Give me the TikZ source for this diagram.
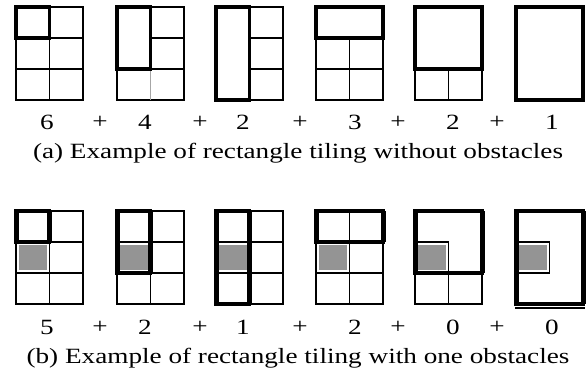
\documentclass[tikz,border=0pt]{standalone}
\usepackage{fontspec}
\setmainfont{Liberation Serif}[FakeStretch=1.25]
\usepackage{tikz}

% thin 2x3 cell grid of one board
\newcommand{\fullgrid}{%
  \draw[gridline] (0,0) rectangle (67,93)
    (33.5,0) -- (33.5,93) (0,31) -- (67,31) (0,62) -- (67,62);}

\begin{document}
\begin{tikzpicture}[
    x=0.4pt, y=-0.4pt,
    gridline/.style={line width=0.6pt},
    faint/.style={gridline, draw=black!35},
    tile/.style={line width=1.3pt},
    tileside/.style={line width=2pt},
    obst/.style={fill=black!42},
    obstedge/.style={line width=0.6pt},
    lbl/.style={font=\fontsize{8.7}{10}\selectfont, inner sep=0pt},
  ]
    \useasboundingbox (0,0) rectangle (586,373);

    % ---- (a) boards without obstacles ----
    \begin{scope}[shift={(16,7)}]
      \fullgrid
      \draw[tile] (0,0) rectangle (33.5,31);
    \end{scope}
    \begin{scope}[shift={(117,7)}]
      \draw[gridline] (0,0) rectangle (67,93) (33.5,31) -- (67,31) (0,62) -- (67,62);
      \draw[faint] (33.5,62) -- (33.5,93);
      \draw[tile] (0,0) rectangle (33.5,62);
    \end{scope}
    \begin{scope}[shift={(216,7)}]
      \draw[gridline] (0,0) rectangle (67,93) (33.5,31) -- (67,31) (33.5,62) -- (67,62);
      \draw[tile] (0,0) rectangle (33.5,93);
    \end{scope}
    \begin{scope}[shift={(316,7)}]
      \draw[gridline] (0,0) rectangle (67,93) (0,62) -- (67,62) (33.5,31) -- (33.5,93);
      \draw[tile] (0,0) rectangle (67,31);
    \end{scope}
    \begin{scope}[shift={(415,7)}]
      \draw[gridline] (0,0) rectangle (67,93) (33.5,62) -- (33.5,93);
      \draw[tile] (0,0) rectangle (67,62);
    \end{scope}
    \begin{scope}[shift={(516,7)}]
      \draw[tile] (0,0) rectangle (67,93);
    \end{scope}

    \foreach \x/\t [count=\i] in {47/6,100/+,145/4,200/+,243/2,300/+,355/3,398/+,453/2,497/+,552/1}
      \node[lbl] (a\i) at (\x,122) {\t};
    \node[lbl] (capa) at (298,153) {(a) Example of rectangle tiling without obstacles};

    % ---- (b) boards with one obstacle ----
    \begin{scope}[shift={(16,211)}]
      \fullgrid
      \fill[obst] (3,34) rectangle (30.5,59);
      \draw[tile] (0,0) rectangle (33.5,31);
      \draw[tileside] (0,0) -- (0,31) (33.5,0) -- (33.5,31);
    \end{scope}
    \begin{scope}[shift={(117,211)}]
      \fullgrid
      \fill[obst] (3,34) rectangle (30.5,59);
      \draw[tile] (0,0) rectangle (33.5,62);
      \draw[tileside] (0,0) -- (0,62) (33.5,0) -- (33.5,62);
    \end{scope}
    \begin{scope}[shift={(216,211)}]
      \fullgrid
      \fill[obst] (3,34) rectangle (30.5,59);
      \draw[tile] (0,0) rectangle (33.5,93);
      \draw[tileside] (0,0) -- (0,93) (33.5,0) -- (33.5,93);
    \end{scope}
    \begin{scope}[shift={(316,211)}]
      \fullgrid
      \fill[obst] (3,34) rectangle (30.5,59);
      \draw[tile] (0,0) rectangle (67,31);
      \draw[tileside] (0,0) -- (0,31) (67,0) -- (67,31);
    \end{scope}
    \begin{scope}[shift={(415,211)}]
      \draw[gridline] (0,0) rectangle (67,93) (33.5,62) -- (33.5,93);
      \fill[obst] (3,34) rectangle (30.5,59);
      \draw[obstedge] (0,31) -- (33.5,31) -- (33.5,62);
      \draw[tile] (0,0) rectangle (67,62);
      \draw[tileside] (0,0) -- (0,62) (67,0) -- (67,62);
    \end{scope}
    \begin{scope}[shift={(516,211)}]
      \fill[obst] (3,34) rectangle (30.5,59);
      \draw[obstedge] (0,31) rectangle (33.5,62);
      \draw[tile] (0,0) rectangle (67,93);
      \draw[tileside] (0,0) -- (0,93) (67,0) -- (67,93);
      \draw[gridline] (-1,97) -- (69,97);
    \end{scope}

    \foreach \x/\t [count=\i] in {47/5,100/+,145/2,200/+,243/1,300/+,355/2,398/+,453/0,497/+,552/0}
      \node[lbl] (b\i) at (\x,327) {\t};
    \node[lbl] (capb) at (298,358) {(b) Example of rectangle tiling with one obstacles};
\end{tikzpicture}
\end{document}
